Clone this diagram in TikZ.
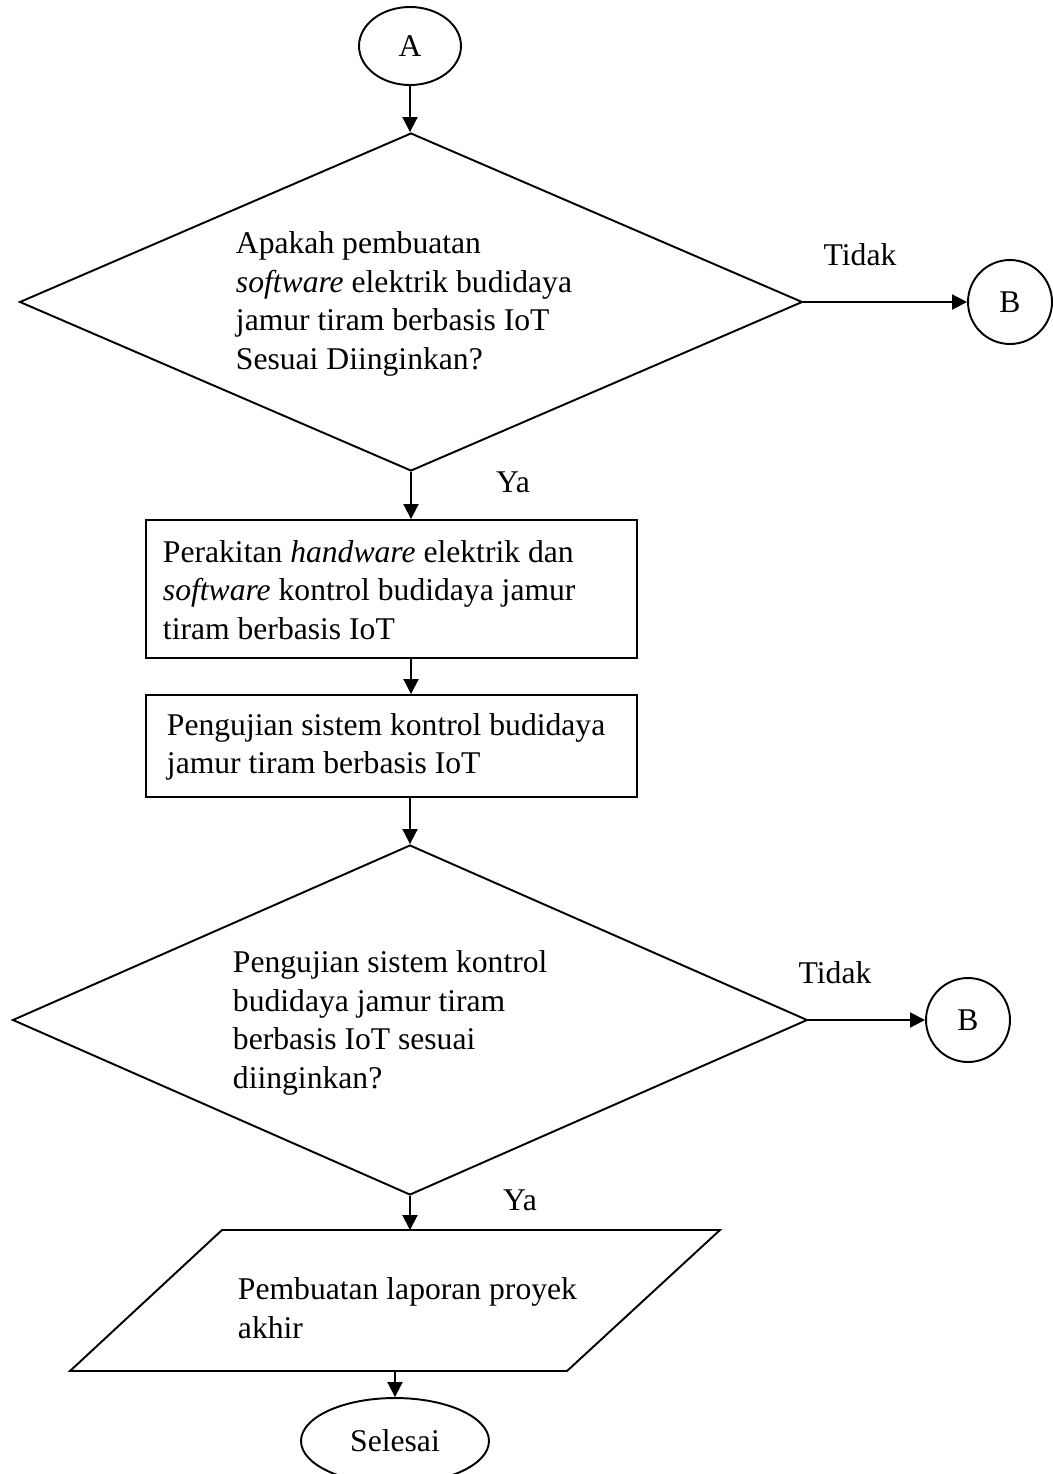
\documentclass[tikz,border=0pt]{standalone}
\usepackage{fontspec}
\setmainfont{Liberation Serif}
\usetikzlibrary{arrows.meta,shapes.geometric,positioning,calc}
\tikzset{every picture/.style={line width=1.1pt}}
\tikzset{
    terminal/.style={draw, ellipse, inner sep=0pt},
    connector/.style={draw, circle, inner sep=0pt, minimum size=1.68cm},
    decision/.style={draw, diamond, inner sep=0pt},
    process/.style={draw, rectangle, inner sep=0pt, minimum width=9.82cm},
    txt/.style={align=left, inner sep=0pt, anchor=west},
    flow/.style={-{Triangle[length=0.3cm,width=0.3cm]}},
}

\begin{document}
\begin{tikzpicture}[x=0.02cm, y=-0.02cm, every node/.style={font=\fontsize{18}{22}\selectfont}]
    \useasboundingbox (0,0) rectangle (1053,1474);
    \node[terminal, minimum width=2.04cm, minimum height=1.56cm] (start) at (410,46) {A};
    \node[decision, minimum width=15.66cm, minimum height=6.76cm] (q1) at (411,302) {};
    \node[txt] (q1txt) at (235,304) {Apakah pembuatan\\\textit{software} elektrik budidaya\\jamur tiram berbasis IoT\\Sesuai Diinginkan?};
    \node[connector] (b1) at (1010,302) {B};
    \node (no1) at (860,255) {Tidak};
    \node (yes1) at (513,482) {Ya};
    \node[process, minimum height=2.76cm] (build) at (391.5,589) {};
    \node[txt] (buildtxt) at (162,590) {Perakitan \textit{handware} elektrik dan\\\textit{software} kontrol budidaya jamur\\tiram berbasis IoT};
    \node[process, minimum height=2.04cm] (test) at (391.5,746) {};
    \node[txt] (testtxt) at (166,747) {Pengujian sistem kontrol budidaya\\jamur tiram berbasis IoT};
    \node[decision, minimum width=15.9cm, minimum height=7cm] (q2) at (410,1020) {};
    \node[txt] (q2txt) at (232,1023) {Pengujian sistem kontrol\\budidaya jamur tiram\\berbasis IoT sesuai\\diinginkan?};
    \node[connector] (b2) at (968,1020) {B};
    \node (no2) at (835,973) {Tidak};
    \node (yes2) at (520,1200) {Ya};
    % parallelogram
    \coordinate (rtop) at (410,1230);
    \coordinate (rbot) at (395,1371);
    \draw (222,1230) -- (720,1230) -- (567,1371) -- (70,1371) -- cycle;
    \node[txt] (reporttxt) at (237,1308) {Pembuatan laporan proyek\\akhir};
    \node[terminal, minimum width=3.76cm, minimum height=1.72cm] (finish) at (395,1441) {Selesai};

    \draw[flow] (start) -- (start.south |- q1.north);
    \draw[flow] (q1.east) -- (b1);
    \draw[flow] (q1.south) -- (q1.south |- build.north);
    \draw[flow] (build.south -| q1.south) -- (test.north -| q1.south);
    \draw[flow] (test.south -| q2.north) -- (q2.north);
    \draw[flow] (q2.east) -- (b2);
    \draw[flow] (q2.south) -- (rtop);
    \draw[flow] (rbot) -- (finish);
\end{tikzpicture}
\end{document}
